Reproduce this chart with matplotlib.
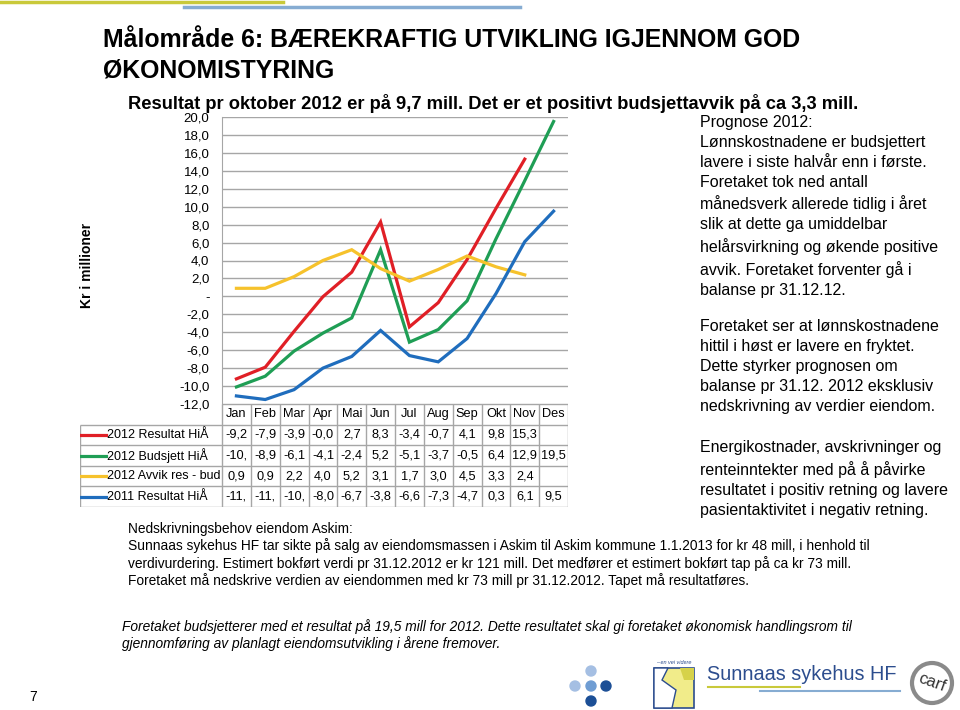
import numpy as np
import matplotlib
matplotlib.use("Agg")
import matplotlib.pyplot as plt
from matplotlib.patches import Circle, Rectangle, Polygon

plt.rcParams['font.family'] = ['Liberation Sans', 'DejaVu Sans']

months = ["Jan", "Feb", "Mar", "Apr", "Mai", "Jun", "Jul", "Aug", "Sep", "Okt", "Nov", "Des"]
series_names = ["2012 Resultat HiÅ", "2012 Budsjett HiÅ", "2012 Avvik res - bud", "2011 Resultat HiÅ"]
res_2012 = [-9.2, -7.9, -3.9, -0.04, 2.7, 8.3, -3.4, -0.7, 4.1, 9.8, 15.3, np.nan]
bud_2012 = [-10.1, -8.9, -6.1, -4.1, -2.4, 5.2, -5.1, -3.7, -0.5, 6.4, 12.9, 19.5]
avvik_2012 = [0.9, 0.9, 2.2, 4.0, 5.2, 3.1, 1.7, 3.0, 4.5, 3.3, 2.4, np.nan]
res_2011 = [-11.1, -11.5, -10.4, -8.0, -6.7, -3.8, -6.6, -7.3, -4.7, 0.3, 6.1, 9.5]
series = [res_2012, bud_2012, avvik_2012, res_2011]
colors = ["#e01f26", "#1f9e55", "#f6c22c", "#1f6dbd"]
yticks = np.arange(-12, 21, 2)

W, H = 960, 710
fig = plt.figure(figsize=(9.6, 7.1), dpi=100)

def fx(px):
    return px / W

def fy(py):
    return 1 - py / H

# decorative lines at top of slide
fig.add_artist(plt.Line2D([0, fx(283)], [fy(2), fy(2)], color="#c9c93a", lw=2.5))
fig.add_artist(plt.Line2D([fx(184), fx(520)], [fy(7), fy(7)], color="#86acd2", lw=2.5))

# titles
fig.text(fx(103), fy(47), "Målområde 6: BÆREKRAFTIG UTVIKLING IGJENNOM GOD",
         fontsize=17.9, fontweight="bold", va="baseline")
fig.text(fx(103), fy(77), "ØKONOMISTYRING", fontsize=17.9, fontweight="bold", va="baseline")
fig.text(fx(128), fy(109), "Resultat pr oktober 2012 er på 9,7 mill. Det er et positivt budsjettavvik på ca 3,3 mill.",
         fontsize=13.2, fontweight="bold", va="baseline")

# line chart
ax = fig.add_axes([fx(222), fy(404), fx(568 - 222), (404 - 117) / H])
x = np.arange(12) + 0.5
for vals, c in zip(series, colors):
    ax.plot(x, vals, color=c, lw=2.3, solid_joinstyle="miter")
ax.set_xlim(0, 12)
ax.set_ylim(-12, 20)
ax.set_yticks(yticks)
ax.set_yticklabels(["-" if v == 0 else f"{v:.1f}".replace(".", ",") for v in yticks], fontsize=9.5)
ax.set_xticks([])
for v in yticks:
    ax.axhline(v, color="#a6a6a6", lw=1, zorder=0)
for s in ["top", "right", "bottom"]:
    ax.spines[s].set_visible(False)
ax.spines["left"].set_color("#a6a6a6")
ax.tick_params(axis="y", length=0, pad=9)

fig.text(fx(87), fy(265), "Kr i millioner", rotation=90, fontsize=10, fontweight="bold",
         ha="center", va="center")

# data table below the chart
lab_w = (222 - 80) / ((568 - 222) / 12)
tax = fig.add_axes([fx(80), fy(507), fx(568 - 80), (507 - 404) / H])
tax.set_xlim(-lab_w, 12)
tax.set_ylim(5, 0)
tax.axis("off")
grid_c = "#a6a6a6"
tax.hlines(0, 0, 12, color=grid_c, lw=1)
for r in range(1, 6):
    tax.hlines(r, -lab_w, 12, color=grid_c, lw=1)
for c in range(13):
    tax.vlines(c, 0, 5, color=grid_c, lw=1)
tax.vlines(-lab_w, 1, 5, color=grid_c, lw=1)
for i, m in enumerate(months):
    tax.text(i + 0.5, 0.5, m, ha="center", va="center", fontsize=9.2)
for r, (name, vals, c) in enumerate(zip(series_names, series, colors)):
    yy = r + 1.5
    tax.plot([-lab_w + 0.05, -lab_w + 0.9], [yy, yy], color=c, lw=2.3)
    tax.text(-lab_w + 0.95, yy, name, ha="left", va="center", fontsize=9)
    for i, v in enumerate(vals):
        if np.isnan(v):
            continue
        s = f"{v:.1f}".replace(".", ",")[:4]
        tax.text(i + 0.5, yy, s, ha="center", va="center", fontsize=9.2)

# commentary on the right
p1 = ("Prognose 2012:\nLønnskostnadene er budsjettert\nlavere i siste halvår enn i første.\n"
      "Foretaket tok ned antall\nmånedsverk allerede tidlig i året\nslik at dette ga umiddelbar\n"
      "helårsvirkning og økende positive\navvik. Foretaket forventer gå i\nbalanse pr 31.12.12.")
p2 = ("Foretaket ser at lønnskostnadene\nhittil i høst er lavere en fryktet.\nDette styrker prognosen om\n"
      "balanse pr 31.12. 2012 eksklusiv\nnedskrivning av verdier eiendom.")
p3 = ("Energikostnader, avskrivninger og\nrenteinntekter med på å påvirke\n"
      "resultatet i positiv retning og lavere\npasientaktivitet i negativ retning.")
for txt, ytop in [(p1, 115), (p2, 319), (p3, 440)]:
    fig.text(fx(700), fy(ytop), txt, fontsize=11.5, va="top", ha="left", linespacing=1.41)

# notes below
note = ("Nedskrivningsbehov eiendom Askim:\n"
        "Sunnaas sykehus HF tar sikte på salg av eiendomsmassen i Askim til Askim kommune 1.1.2013 for kr 48 mill, i henhold til\n"
        "verdivurdering. Estimert bokført verdi pr 31.12.2012 er kr 121 mill. Det medfører et estimert bokført tap på ca kr 73 mill.\n"
        "Foretaket må nedskrive verdien av eiendommen med kr 73 mill pr 31.12.2012. Tapet må resultatføres.")
fig.text(fx(128), fy(522), note, fontsize=9.9, va="top", ha="left", linespacing=1.2)
italic = ("Foretaket budsjetterer med et resultat på 19,5 mill for 2012. Dette resultatet skal gi foretaket økonomisk handlingsrom til\n"
          "gjennomføring av planlagt eiendomsutvikling i årene fremover.")
fig.text(fx(122), fy(619), italic, fontsize=9.9, style="italic", va="top", ha="left", linespacing=1.2)

# page number
fig.text(fx(33), fy(697), "7", fontsize=10, ha="center", va="center")

# logo
lax = fig.add_axes([0, 0, 1, 1], zorder=-1)
lax.set_xlim(0, W)
lax.set_ylim(H, 0)
lax.axis("off")
for (cx, cy, cc) in [(591, 671, "#a5bfe3"), (575, 686, "#a5bfe3"), (591, 686, "#6f9dd3"),
                     (606, 686, "#1c4f96"), (591, 701, "#1c4f96")]:
    lax.add_patch(Circle((cx, cy), 5, color=cc))
lax.add_patch(Rectangle((654, 668), 40, 40, facecolor="#f1ec8a", edgecolor="#2c4d8e", lw=1.2))
lax.add_patch(Polygon([(654, 668), (668, 668), (662, 680), (676, 690), (672, 708), (654, 708)],
                      facecolor="white", edgecolor="#2c4d8e", lw=1))
lax.add_patch(Polygon([(680, 668), (694, 668), (694, 680), (684, 680)], facecolor="#d6d24a", edgecolor="none"))
lax.text(656, 663, "– en vei videre", fontsize=4, style="italic", color="#2c4d8e", va="center")
lax.text(707, 674, "Sunnaas sykehus HF", fontsize=14.3, color="#2c4d8e", va="center", ha="left")
lax.plot([708, 800], [687, 687], color="#c9c93a", lw=1.5)
lax.plot([760, 900], [691, 691], color="#86acd2", lw=1.5)
lax.add_patch(Circle((932, 683), 20, facecolor="none", edgecolor="#8a8a8a", lw=3))
lax.text(932, 683, "carf", fontsize=12, color="#333333", ha="center", va="center", rotation=-20)

fig.savefig("out.png", dpi=100)
